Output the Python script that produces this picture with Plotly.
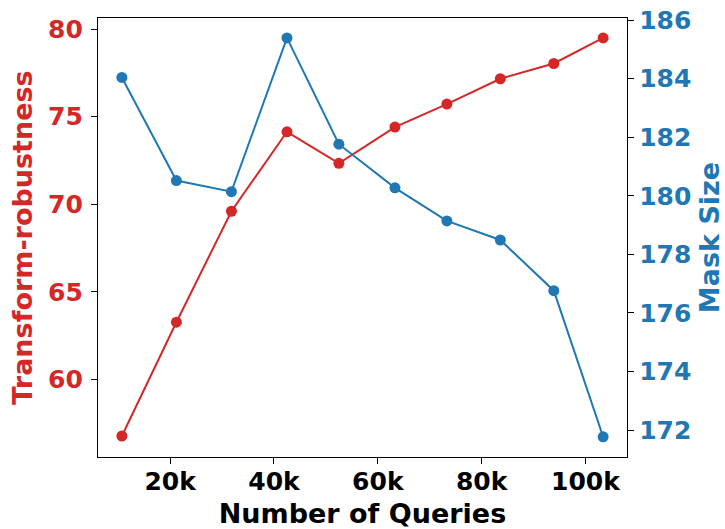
import plotly.graph_objects as go

queries_k = [10.7, 21.2, 31.8, 42.5, 52.5, 63.3, 73.3, 83.6, 93.9, 103.4]
transform_robustness = [56.76, 63.26, 69.6, 74.14, 72.34, 74.41, 75.72, 77.17, 78.04, 79.50]
mask_size = [184.04, 180.52, 180.14, 185.39, 181.76, 180.27, 179.14, 178.49, 176.76, 171.77]

x_tickvals = [20, 40, 60, 80, 100]
x_ticktext = ["20k", "40k", "60k", "80k", "100k"]
left_ticks = [60, 65, 70, 75, 80]
right_ticks = [172, 174, 176, 178, 180, 182, 184, 186]

RED = "#d62728"
BLUE = "#1f77b4"
FONT = "DejaVu Sans"
TICK_SIZE = 25
TITLE_SIZE = 27

fig = go.Figure()
fig.add_trace(go.Scatter(
    x=queries_k, y=transform_robustness, mode="lines+markers",
    line=dict(color=RED, width=2), marker=dict(color=RED, size=11),
    yaxis="y", showlegend=False))
fig.add_trace(go.Scatter(
    x=queries_k, y=mask_size, mode="lines+markers",
    line=dict(color=BLUE, width=2), marker=dict(color=BLUE, size=11),
    yaxis="y2", showlegend=False))

axis_common = dict(
    showgrid=False, zeroline=False, showline=True, linecolor="black", linewidth=1.3,
    ticks="outside", ticklen=6, tickwidth=1.3, tickcolor="black", automargin=False,
    ticklabeloverflow="allow",
)

fig.update_layout(
    width=725, height=529,
    margin=dict(l=98, r=98, t=18, b=72),
    paper_bgcolor="white", plot_bgcolor="white",
    font=dict(family=FONT, size=TICK_SIZE, color="black", weight="bold"),
    xaxis=dict(
        **axis_common, mirror=True, range=[6.1, 108.0],
        tickvals=x_tickvals, ticktext=x_ticktext, ticklabelstandoff=-4,
        tickfont=dict(family=FONT, size=TICK_SIZE, color="black", weight="bold"),
        title=dict(text="Number of Queries", standoff=8,
                   font=dict(family=FONT, size=TITLE_SIZE, color="black", weight="bold")),
    ),
    yaxis=dict(
        **axis_common, range=[55.56, 80.64], tickvals=left_ticks, ticklabelstandoff=3,
        tickfont=dict(family=FONT, size=TICK_SIZE, color=RED, weight="bold"),
        title=dict(text="Transform-robustness", standoff=7,
                   font=dict(family=FONT, size=TITLE_SIZE, color=RED, weight="bold")),
    ),
    yaxis2=dict(
        **axis_common, overlaying="y", side="right", range=[171.08, 186.07],
        tickvals=right_ticks,
        tickfont=dict(family=FONT, size=TICK_SIZE, color=BLUE, weight="bold"),
        title=dict(text="Mask Size", standoff=10,
                   font=dict(family=FONT, size=TITLE_SIZE, color=BLUE, weight="bold")),
    ),
)

fig.write_html("out.html", config={"displayModeBar": False},
               post_script="document.body.style.margin='0';")
